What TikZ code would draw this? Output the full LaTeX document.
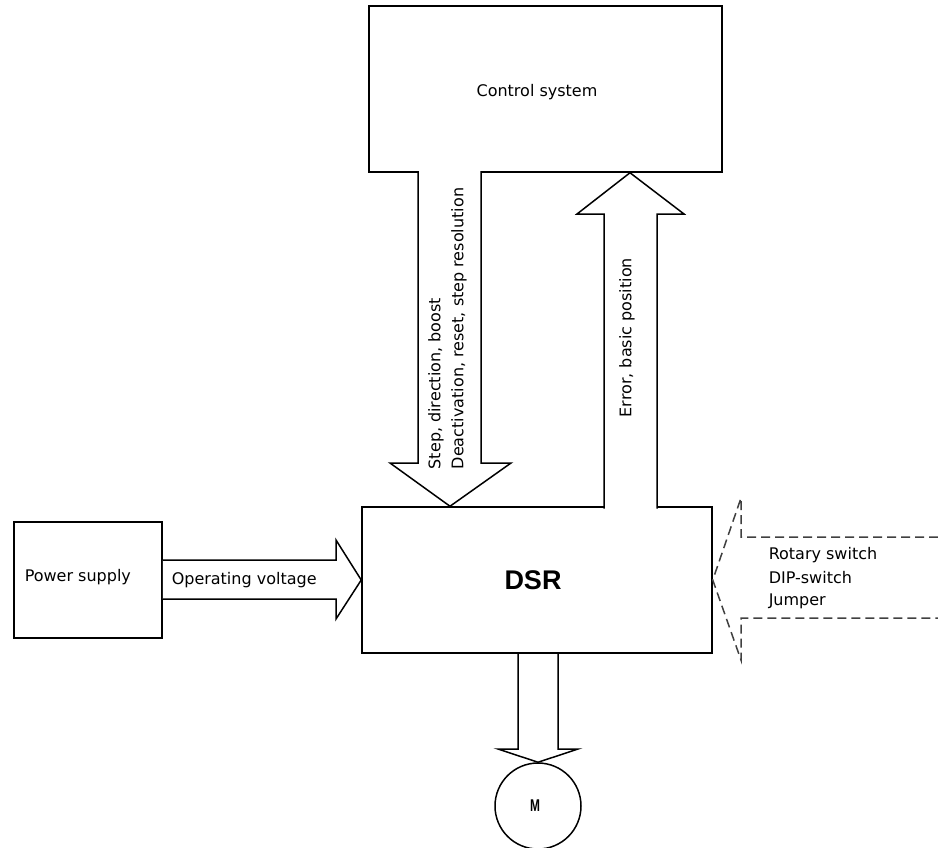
\documentclass[tikz,border=0pt]{standalone}
\usepackage{fontspec}
\setmainfont{DejaVu Sans}
\newfontfamily\dsrfont{Liberation Sans}
\begin{document}
\begin{tikzpicture}[x=1pt,y=-1pt,line width=1.5pt,line join=miter,
  box/.style={draw,rectangle,inner sep=0},
  lbl/.style={font=\fontsize{16}{19}\selectfont,inner sep=0},
  fatarrow/.style={draw,fill=white},
  dasharrow/.style={draw=black!75,dash pattern=on 9pt off 5pt}]
\useasboundingbox (0,0) rectangle (938,847);
% boxes
\node[box,minimum width=353pt,minimum height=166pt] (ctrl) at (545.5,89) {};
\node[lbl] (ctrltxt) at (537,92) {Control system};
\node[box,minimum width=350pt,minimum height=146pt] (dsr) at (537,580) {};
\node[inner sep=0,font=\dsrfont\bfseries\fontsize{27}{27}\selectfont] (dsrtxt) at (533,580) {DSR};
\node[box,minimum width=148pt,minimum height=116pt] (psu) at (88,580) {};
\node[lbl,anchor=west] (psutxt) at (24,577) {Power supply};
\node[draw,circle,minimum size=86pt,inner sep=0] (mot) at (538,806) {};
\node[inner sep=0,font=\dsrfont\bfseries\fontsize{17}{17}\selectfont,xscale=0.7,transform shape] (mtxt) at (535,806) {M};
% control -> DSR
\draw[fatarrow] (418,171) -- (418,463) -- (390,463) -- (450,0 |- dsr.north) -- (511,463) -- (481,463) -- (481,171);
% DSR -> control
\draw[fatarrow] (604,508.5) -- (604,214) -- (577,214) -- (630,0 |- ctrl.south) -- (684,214) -- (657,214) -- (657,508.5);
% power -> DSR
\draw[fatarrow] (psu.east |- 0,560) -- (336,560) -- (336,540) -- (dsr.west) -- (336,619) -- (336,599) -- (psu.east |- 0,599);
% DSR -> motor
\draw[fatarrow] (518,654) -- (518,749) -- (498,749) -- (mot.north) -- (578,749) -- (558,749) -- (558,654);
% switches -> DSR
\coordinate (swtop) at (938,537);
\coordinate (swbot) at (938,618);
\draw[dasharrow] (swtop) -- (741,537) -- (741,498) -- (dsr.east) -- (741,660) -- (741,618) -- (swbot);
% labels
\node[lbl,rotate=90,anchor=west] (l1) at (436,470) {Step, direction, boost};
\node[lbl,rotate=90,anchor=west] (l2) at (459,470) {Deactivation, reset, step resolution};
\node[lbl,rotate=90,anchor=west] (l3) at (627,418) {Error, basic position};
\node[lbl,anchor=west] (opv) at (171,580) {Operating voltage};
\node[lbl,anchor=west] (sw1) at (768,555) {Rotary switch};
\node[lbl,anchor=west] (sw2) at (768,578) {DIP-switch};
\node[lbl,anchor=west] (sw3) at (768,601) {Jumper};
\end{tikzpicture}
\end{document}
